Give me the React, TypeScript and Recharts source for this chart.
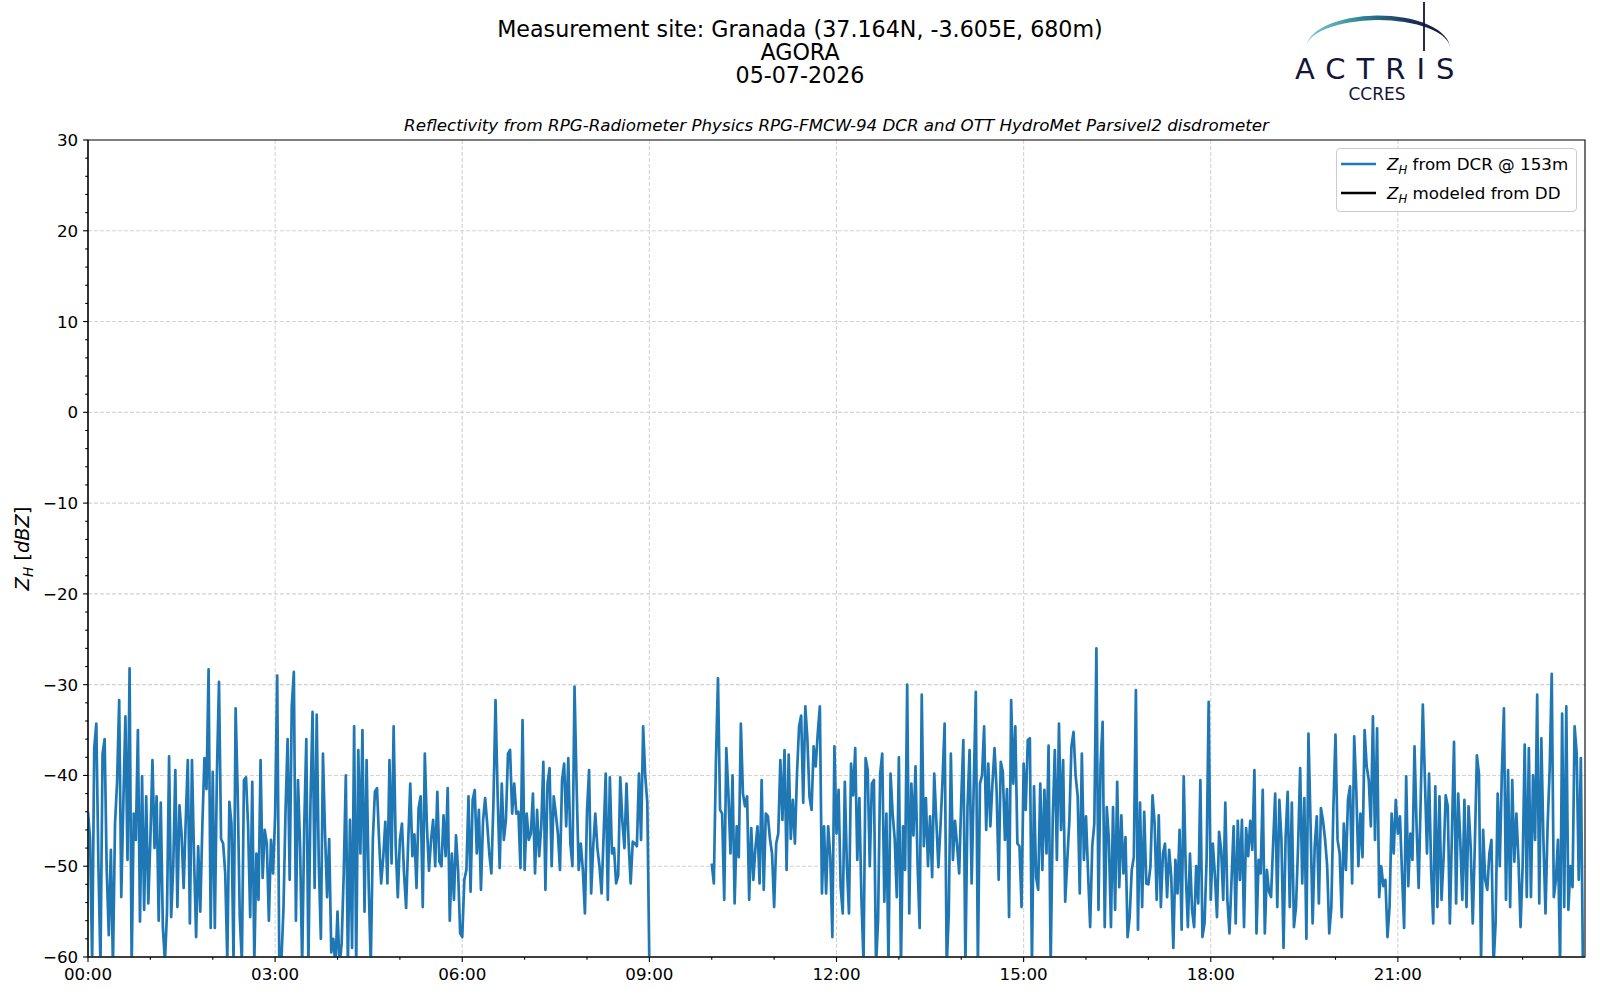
import React from 'react';
import { LineChart, Line, XAxis, YAxis, CartesianGrid, ReferenceArea, Legend } from 'recharts';

const FONT = '"DejaVu Sans", "Liberation Sans", sans-serif';

// ---- DCR reflectivity (dBZ), one value every 2 minutes ----
// segment 1: 00:00 -> 09:00
const z00 = [-44, -47, -60.5, -37, -34.3, -49.7, -61, -37.6, -36, -50.4, -57.6, -48.2, -61, -45.3, -40.7, -31.7, -53.4, -43, -33.5, -49.3, -28.2, -61, -44.2, -47.1, -35, -56.1, -40.1, -54.8, -42.3, -54.1];
const z01 = [-47, -38.3, -48, -42.3, -56, -43, -56.7, -60.5, -55, -37.9, -55.6, -50, -39.4, -54.5, -43.3, -46.5, -52.4, -45, -38.3, -56.3, -38.3, -49, -57.8, -47.8, -55, -45.5, -38.1, -41.5, -28.3, -56.8];
const z02 = [-39.6, -56.8, -39.8, -29.7, -47, -47.5, -50.8, -60.5, -42.9, -45.3, -60.5, -32.6, -42, -55.6, -60.5, -40.5, -40.2, -45.6, -55.6, -40.7, -60.5, -48.6, -53.7, -38.3, -51.3, -46, -47.5, -56, -47.1, -50.8];
const z03 = [-44.4, -29, -60.5, -60.5, -54.8, -44, -36, -51.5, -32.4, -28.6, -56, -40.5, -47.8, -61, -45.6, -36, -61, -43, -33, -52.4, -33.3, -49.7, -58, -37.6, -46.4, -53.4, -47, -59.5, -58, -61];
const z04 = [-55, -61, -58.5, -50.8, -40, -61, -44.9, -59, -34.6, -61, -37.2, -48.6, -35, -55, -38.3, -52, -61, -47, -41.8, -41.4, -47.1, -51.9, -49, -45.1, -51.9, -38.3, -49.7, -34.6, -47.8, -53.4];
const z05 = [-47.1, -45.3, -50.8, -54.6, -47.3, -40.9, -48.9, -46.5, -52.4, -43.6, -42.3, -54.5, -37.6, -45.6, -50.5, -47.1, -44.9, -50, -41.8, -49.5, -50, -44.4, -48.9, -41.4, -56, -48.6, -53.7, -46.6, -50.5, -57.4];
const z06 = [-57.8, -51.5, -50.4, -42.3, -52.8, -42.7, -41.6, -48.6, -43.8, -52.6, -45, -42.5, -45.3, -48.6, -50.8, -43, -31.7, -42, -50.2, -40.9, -47.1, -44.9, -37.6, -37.2, -44.2, -40.9, -44.2, -44, -50.2, -33.9];
const z07 = [-50.4, -44.2, -47.1, -46.4, -42, -50.8, -43.8, -48.9, -45.6, -38.5, -52.6, -40.9, -39.2, -50, -42.3, -44.2, -46.4, -50.4, -40.5, -38.7, -45.6, -38.1, -47.5, -50, -30.2, -41.2, -50.4, -47.5, -50.4, -55.2];
const z08 = [-44, -39.4, -53, -47.8, -44.2, -48, -50, -53, -46.6, -39.8, -53.7, -40.2, -48.6, -48, -51.9, -51, -40.2, -45, -48, -40.9, -47.3, -51.9, -47.3, -47.5, -47.8, -39.8, -47.1, -34.6, -40, -43];
const z09 = [-61];
// segment 2: 10:00 -> 23:58
const z10 = [-49.7, -51.9, -38.5, -29.3, -43.8, -44.2, -53.7, -37, -42, -48.6, -40, -54.1, -45.6, -49, -34.3, -42, -43.4, -42.3, -53.7, -45.8, -51.5, -48, -45.6, -51.9, -40.5, -52.6, -44.2, -44.5, -47, -48.6];
const z11 = [-54.5, -47.5, -46.4, -38.3, -44.9, -37.2, -50.4, -37.7, -47, -42.7, -47.5, -39.8, -34.6, -33.4, -43, -32.4, -36, -42.3, -43.8, -36.8, -39, -35.3, -32.4, -53, -45.6, -53, -45.6, -48.9, -57.8, -36.8];
const z12 = [-46.4, -41.6, -52.3, -55.2, -40.7, -50, -55.2, -38.7, -42.2, -37, -49.3, -42.5, -53.7, -60.5, -38.1, -39.4, -50, -40.9, -40.5, -61, -55.9, -39.8, -37.6, -53.9, -44.2, -61, -39.8, -44.2, -47, -53.4];
const z13 = [-38, -61, -45.6, -50.4, -30, -55.2, -40.9, -46.6, -39, -49.8, -56.8, -31.1, -47.8, -42.5, -50, -44.5, -51.2, -39.8, -44.9, -50.1, -45.7, -40.5, -34.3, -61, -55.2, -37.6, -49.3, -45, -47.7, -50.8];
const z14 = [-42.7, -36.1, -61, -43.5, -37.2, -51.9, -41.2, -30.8, -61, -40.9, -40, -34.6, -46, -38.7, -45.6, -40.9, -37, -41.6, -51.5, -38.5, -39.6, -47.1, -41.5, -55.6, -31.7, -40.9, -34.6, -47.5, -47.8, -54.5];
const z15 = [-38.7, -43.8, -36.1, -35.9, -61, -41.2, -51.2, -52.6, -40.9, -50.4, -41.6, -48.6, -36.7, -61, -44.8, -37.2, -49.3, -34.3, -46, -38.3, -53.9, -49.3, -45, -36.8, -35.2, -40, -42.3, -53, -37.6, -49.3];
const z16 = [-44.5, -50.8, -56.7, -47.8, -45.3, -26, -54.8, -38.9, -34.1, -56.7, -43.5, -47.1, -56.7, -43.5, -54.8, -40.7, -52.3, -44.4, -50.8, -46.8, -57.8, -55.6, -50.4, -49, -30.6, -57, -43, -54.5, -44, -51.9];
const z17 = [-52, -50, -42.2, -45.3, -53.7, -44.4, -54.5, -48.6, -47.5, -53.4, -48.2, -51.2, -59, -49.3, -53, -46, -57, -40.1, -50.8, -56.7, -48.6, -54.8, -56.7, -50, -54.1, -40.5, -57.8, -56.3, -49.3, -31.9];
const z18 = [-53.7, -47.5, -51, -55.6, -46.2, -48.2, -53.7, -43, -53.7, -57.4, -51.5, -45.6, -56.3, -45, -51.5, -44.9, -56.7, -45.8, -48.9, -45, -48.2, -39.4, -57.4, -49.3, -50.8, -41.6, -57.4, -50.4, -52.8, -53.4];
const z19 = [-47.5, -42, -54.5, -42.7, -47.1, -59, -46.8, -41.8, -54.5, -43, -56.7, -54.5, -47.8, -39.2, -51.9, -42.5, -58, -35.4, -45.3, -56.3, -47.8, -44.5, -54.1, -43.6, -45, -47.1, -50, -57.4, -54.5, -43.4];
const z20 = [-35.5, -47.1, -48.6, -55.6, -45.3, -50.4, -42.7, -41.2, -51.9, -35.7, -41.6, -50, -44.2, -49, -35, -39, -40.5, -45.6, -33.5, -47.1, -34.8, -53.4, -50, -52.2, -51.5, -57.8, -54.5, -44.2, -48.6, -42.7];
const z21 = [-46.4, -44.5, -50.8, -56.8, -40.1, -52.2, -46.4, -49.3, -36.8, -45.6, -52.4, -42.3, -32.2, -40.5, -48.6, -39.8, -50.4, -56.3, -41.2, -54.5, -42.3, -53.7, -49, -42.2, -43.4, -56.3, -46.4, -36.3, -54.1, -42];
const z22 = [-47.1, -53.7, -42.7, -54.5, -43.4, -47.8, -56.3, -47.8, -37.8, -39.8, -60.5, -46, -51.5, -52.6, -48.6, -47.1, -61, -56.3, -42, -50, -39.8, -32.6, -53.7, -39.4, -54.5, -40.5, -49.5, -44.2, -49.3, -56.7];
const z23 = [-50, -36.6, -53.4, -37, -53.4, -40, -47.1, -31.1, -54.1, -35.9, -47.1, -55.2, -45.6, -39.4, -28.8, -53.4, -51.5, -47.1, -61, -33.2, -54.5, -32.4, -54.8, -50, -52.3, -34.6, -37.6, -51.5, -38.1, -61];

const SEG1_START = 0;    // minutes
const SEG2_START = 600;  // minutes
const GAP_AT = 570;      // minutes (no data)
const STEP = 2;          // minutes

const seg1 = [...z00, ...z01, ...z02, ...z03, ...z04, ...z05, ...z06, ...z07, ...z08, ...z09];
const seg2 = [...z10, ...z11, ...z12, ...z13, ...z14, ...z15, ...z16, ...z17, ...z18, ...z19, ...z20, ...z21, ...z22, ...z23];

const data: { t: number; z: number | null; dd?: number | null }[] = [
  ...seg1.map((z, i) => ({ t: SEG1_START + i * STEP, z })),
  { t: GAP_AT, z: null },
  ...seg2.map((z, i) => ({ t: SEG2_START + i * STEP, z })),
];

// ---- axes ----
const xTicks = [0, 60, 120, 180, 240, 300, 360, 420, 480, 540, 600, 660, 720, 780, 840, 900, 960, 1020, 1080, 1140, 1200, 1260, 1320, 1380];
const xMajor = [0, 180, 360, 540, 720, 900, 1080, 1260];
const xMajorLabels = ['00:00', '03:00', '06:00', '09:00', '12:00', '15:00', '18:00', '21:00'];
const yTicks = [-60, -58, -56, -54, -52, -50, -48, -46, -44, -42, -40, -38, -36, -34, -32, -30, -28, -26, -24, -22, -20, -18, -16, -14, -12, -10, -8, -6, -4, -2, 0, 2, 4, 6, 8, 10, 12, 14, 16, 18, 20, 22, 24, 26, 28, 30];
const yMajor = [30, 20, 10, 0, -10, -20, -30, -40, -50, -60];
const xGrid = [180, 360, 540, 720, 900, 1080, 1260];
const yGrid = [20, 10, 0, -10, -20, -30, -40, -50];

const seriesNames = ['Z_H from DCR @ 153m', 'Z_H modeled from DD'];

const TICK_FS = 16.7;

const XTick = (props: any) => {
  const { x, y, payload } = props;
  const v = payload.value;
  const idx = xMajor.indexOf(v);
  const major = idx >= 0;
  return (
    <g>
      <line x1={x} x2={x} y1={y} y2={y + (major ? 4.9 : 2.8)} stroke="#000" strokeWidth={1.1} />
      {major && (
        <text x={x} y={y + 22.5} textAnchor="middle" fontSize={TICK_FS} fontFamily={FONT} fill="#000">
          {xMajorLabels[idx]}
        </text>
      )}
    </g>
  );
};

const YTick = (props: any) => {
  const { x, y, payload } = props;
  const v = payload.value;
  const major = yMajor.includes(v);
  const label = v < 0 ? '\u2212' + Math.abs(v) : String(v);
  return (
    <g>
      <line x1={x} x2={x - (major ? 4.9 : 2.8)} y1={y} y2={y} stroke="#000" strokeWidth={1.1} />
      {major && (
        <text x={x - 9.8} y={y + 6} textAnchor="end" fontSize={TICK_FS} fontFamily={FONT} fill="#000">
          {label}
        </text>
      )}
    </g>
  );
};

const ZH = ({ rest }: { rest: string }) => (
  <>
    <tspan fontStyle="italic">Z</tspan>
    <tspan fontStyle="italic" fontSize={11.7} dy={3.5}>H</tspan>
    <tspan dy={-3.5}>{' ' + rest}</tspan>
  </>
);

const LegendBox = (props: any) => {
  const payload = props.payload || [];
  return (
    <svg width={241} height={64} style={{ display: 'block', overflow: 'visible' }}>
      <rect x={0.5} y={0.5} width={240} height={63} rx={4} ry={4} fill="#ffffff" fillOpacity={0.8} stroke="#cccccc" strokeWidth={1.1} />
      {payload.map((p: any, i: number) => {
        const cy = 16 + i * 29;
        const txt = String(p.value).replace(/^Z_H /, '');
        return (
          <g key={i}>
            <line x1={5} x2={40} y1={cy} y2={cy} stroke={p.color} strokeWidth={2.6} />
            <text x={51} y={cy + 6} fontSize={16.7} fontFamily={FONT} fill="#000">
              <ZH rest={txt} />
            </text>
          </g>
        );
      })}
    </svg>
  );
};

const Overlay = () => (
  <svg width={1600} height={1000} style={{ position: 'absolute', left: 0, top: 0, pointerEvents: 'none' }}>
    <defs>
      <linearGradient id="arcGrad" x1="0" x2="1" y1="0" y2="0">
        <stop offset="0" stopColor="#7fd0cc" />
        <stop offset="0.4" stopColor="#2f8096" />
        <stop offset="0.75" stopColor="#1c2c55" />
        <stop offset="1" stopColor="#141438" />
      </linearGradient>
    </defs>
    <g fontFamily={FONT} fill="#000">
      <text x={800} y={36.5} textAnchor="middle" fontSize={22.2}>Measurement site: Granada (37.164N, -3.605E, 680m)</text>
      <text x={800} y={59.5} textAnchor="middle" fontSize={22.2}>AGORA</text>
      <text x={800} y={82.5} textAnchor="middle" fontSize={22.2}>05-07-2026</text>
      <text x={836.5} y={131} textAnchor="middle" fontSize={16.7} fontStyle="italic">
        Reflectivity from RPG-Radiometer Physics RPG-FMCW-94 DCR and OTT HydroMet Parsivel2 disdrometer
      </text>
      <text transform="translate(29,548.5) rotate(-90)" textAnchor="middle" fontSize={19.4}>
        <tspan fontStyle="italic">Z</tspan>
        <tspan fontStyle="italic" fontSize={13.6} dy={4}>H</tspan>
        <tspan dy={-4}> [</tspan>
        <tspan fontStyle="italic">dBZ</tspan>
        <tspan>]</tspan>
      </text>
    </g>
    {/* ACTRIS logo */}
    <path d="M1306,49 A72,33 0 0 1 1450,48 A71,28 0 0 0 1306,49 Z" fill="url(#arcGrad)" />
    <line x1={1424} x2={1424} y1={2} y2={51} stroke="#141438" strokeWidth={1.8} />
    <text x={1295} y={79} fontSize={29} fontFamily={FONT} fill="#15153a" letterSpacing={11}>ACTRIS</text>
    <text x={1377} y={99.5} fontSize={17} fontFamily={FONT} fill="#15153a" textAnchor="middle">CCRES</text>
  </svg>
);

export default function App() {
  return (
    <div style={{ position: 'absolute', left: 0, top: 0, width: 1600, height: 1000, background: '#fff' }}>
      <LineChart width={1600} height={1000} data={data} margin={{ top: 140, right: 15, bottom: 13, left: 28 }}>
        <CartesianGrid horizontalValues={yGrid} verticalValues={xGrid} stroke="#d4d4d4" strokeDasharray="4 2" strokeWidth={1.1} />
        <XAxis
          dataKey="t"
          type="number"
          domain={[0, 1440]}
          ticks={xTicks}
          interval={0}
          height={30}
          tickSize={0}
          tickMargin={0}
          tickLine={false}
          tick={<XTick />}
          axisLine={{ stroke: '#000', strokeWidth: 1.1 }}
          allowDataOverflow
        />
        <YAxis
          type="number"
          domain={[-60, 30]}
          ticks={yTicks}
          interval={0}
          width={60}
          tickSize={0}
          tickMargin={0}
          tickLine={false}
          tick={<YTick />}
          axisLine={{ stroke: '#000', strokeWidth: 1.1 }}
          allowDataOverflow
        />
        <Line type="linear" dataKey="z" name={seriesNames[0]} stroke="#1f77b4" strokeWidth={2.7} strokeLinejoin="round" dot={false} activeDot={false} isAnimationActive={false} connectNulls={false} />
        <Line type="linear" dataKey="dd" name={seriesNames[1]} stroke="#000000" strokeWidth={2.7} dot={false} activeDot={false} isAnimationActive={false} />
        <ReferenceArea x1={0} x2={1440} y1={-60} y2={30} fill="none" fillOpacity={0} stroke="#000" strokeWidth={1.1} />
        <Legend
          layout="horizontal"
          verticalAlign="middle"
          align="center"
          content={<LegendBox />}
          wrapperStyle={{ position: 'absolute', left: 1336, top: 148, width: 241, height: 64, margin: 0, padding: 0 }}
        />
      </LineChart>
      <Overlay />
    </div>
  );
}
